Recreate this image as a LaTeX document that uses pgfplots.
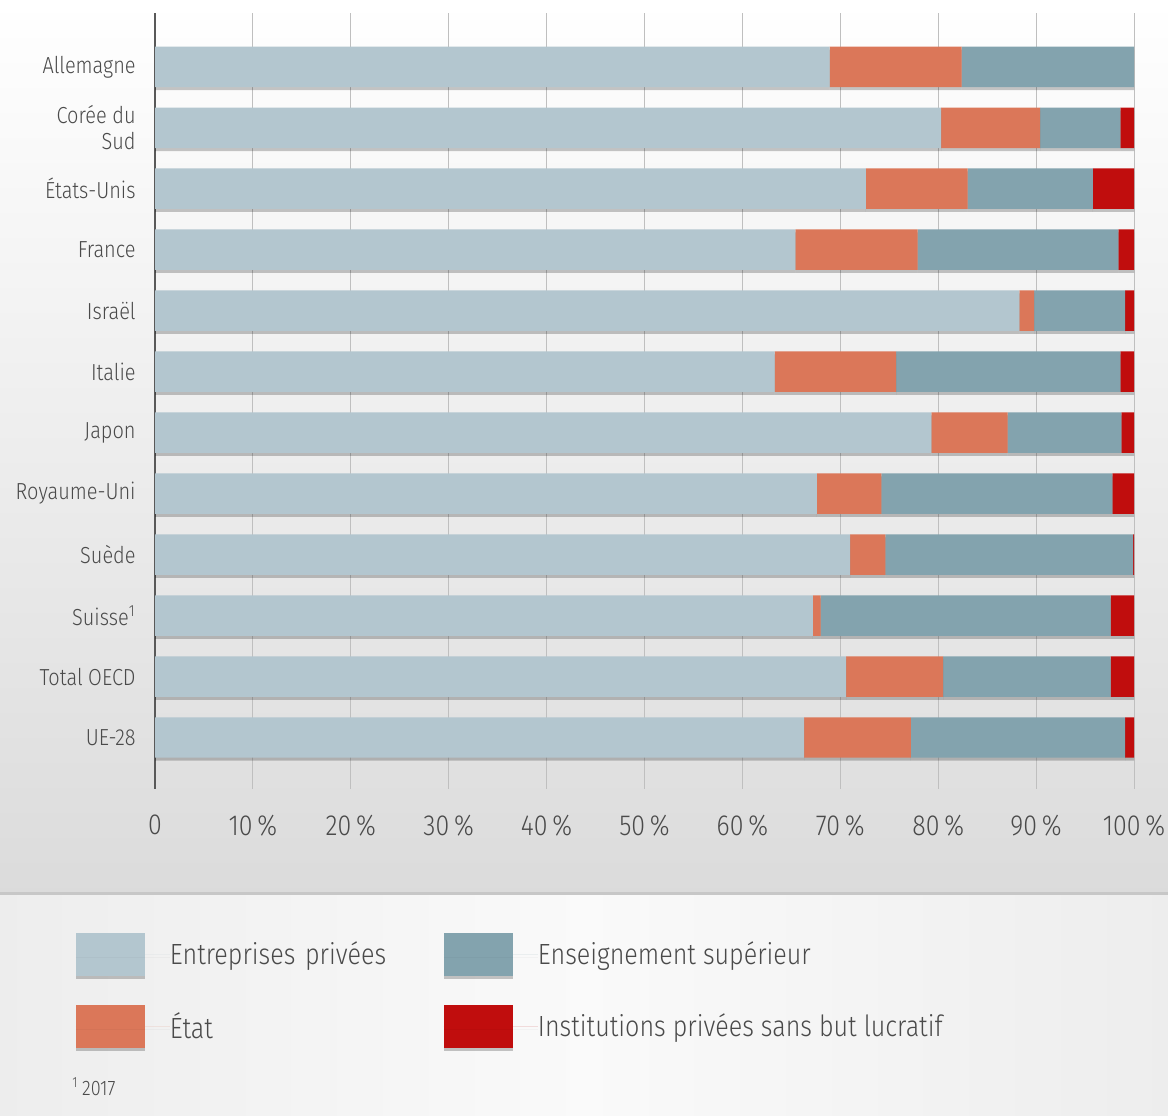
\documentclass[border=0pt]{standalone}
\usepackage{pgfplots}
\pgfplotsset{compat=1.18}
\usepackage{pgfplotstable}
\usepackage{fontspec}
\setmainfont{Fira Sans Light}[FakeStretch=0.86]
\usetikzlibrary{shadows}
\definecolor{cPriv}{HTML}{B3C6CF}
\definecolor{cEtat}{HTML}{DB7759}
\definecolor{cSup}{HTML}{83A3AE}
\definecolor{cInst}{HTML}{C00D0D}
\definecolor{txt}{HTML}{4A4A4A}

\pgfplotstableread{
id priv etat sup inst
0  68.9 13.5 17.6 0
1  80.3 10.1 8.2  1.4
2  72.6 10.4 12.8 4.2
3  65.4 12.5 20.5 1.6
4  88.3 1.5  9.3  0.9
5  63.3 12.4 22.9 1.4
6  79.3 7.8  11.6 1.3
7  67.6 6.6  23.6 2.2
8  71.0 3.6  25.3 0.1
9  67.2 0.8  29.6 2.4
10 70.6 9.9  17.1 2.4
11 66.3 10.9 21.9 0.9
}\datatable

\begin{document}
\begin{tikzpicture}
\shade[top color=white, bottom color=black!14] (0pt,0pt) rectangle (584pt,-446pt);
\shade[left color=black!7, right color=black!7, middle color=black!2] (0pt,-447.5pt) rectangle (584pt,-557.5pt);
\fill[black!22] (0pt,-446pt) rectangle (584pt,-447.5pt);
\begin{axis}[
  at={(77.5pt,-394.65pt)}, anchor=south west,
  scale only axis, width=489.5pt, height=388pt,
  xbar stacked, bar width=0.664,
  xmin=0, xmax=100, ymin=-0.877, ymax=11.85, y dir=reverse,
  axis line style={draw=none},
  major tick length=0pt,
  ytick={0,...,11},
  yticklabels={Allemagne, {Corée du\\Sud}, États-Unis, France, Israël, Italie, Japon, Royaume-Uni, Suède, Suisse\textsuperscript{1}, Total OECD, UE-28},
  yticklabel style={align=right, inner sep=0pt, xshift=-9.5pt, font=\fontsize{11.6}{13}\selectfont, text=txt},
  xtick={0,10,...,100},
  xticklabels={0,10\,\%,20\,\%,30\,\%,40\,\%,50\,\%,60\,\%,70\,\%,80\,\%,90\,\%,100\,\%},
  xticklabel style={inner sep=0pt, yshift=-12.5pt, font=\fontsize{14.5}{16}\selectfont, text=txt},
  xmajorgrids, grid style={black!25, line width=0.5pt},
  extra x ticks={0}, extra x tick labels={},
  extra x tick style={grid style={black!65, line width=1pt}},
  legend image code/.code={\fill[#1] (0pt,-10.75pt) rectangle (34.5pt,10.75pt); \path (0pt,0pt) -- (47pt,0pt);},
  legend cell align=left,
  legend columns=2, transpose legend,
  legend style={at={(axis description cs:-0.0807,-0.1852)}, anchor=north west,
    draw=none, fill=none, inner sep=0pt, outer sep=0pt,
    row sep=14.5pt, column sep=0pt,
    nodes={inner sep=0pt},
    /tikz/column 2/.style={nodes={text width=137pt}},
    font=\fontsize{14.6}{17}\selectfont, text=txt},
  bshadow/.style={drop shadow={shadow xshift=0pt, shadow yshift=-1.5pt, opacity=0.22, fill=black}},
]
\addplot[fill=cPriv, draw=none, bshadow] table[x=priv, y=id] {\datatable};
\addplot[fill=cEtat, draw=none, bshadow] table[x=etat, y=id] {\datatable};
\addplot[fill=cSup, draw=none, bshadow] table[x=sup, y=id] {\datatable};
\addplot[fill=cInst, draw=none, bshadow] table[x=inst, y=id] {\datatable};
\legend{Entreprises privées, État, Enseignement supérieur, Institutions privées sans but lucratif}
\end{axis}
\node[anchor=base west, inner sep=0pt, text=txt, font=\fontsize{10.5}{12}\selectfont] at (36pt,-547.5pt) {\textsuperscript{1}\,2017};
\end{tikzpicture}
\end{document}
